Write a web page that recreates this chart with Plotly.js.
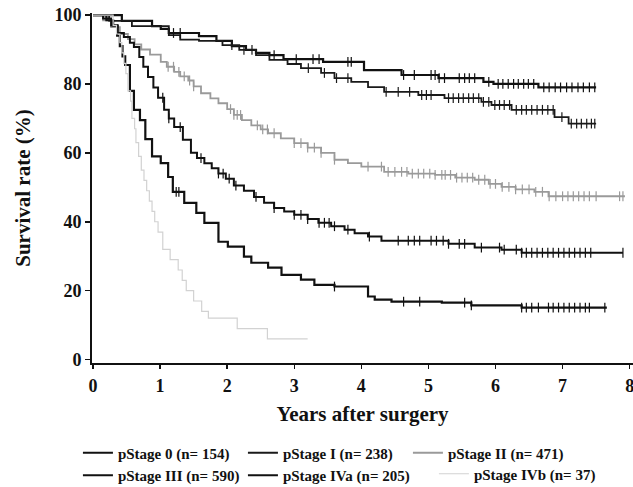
<!DOCTYPE html>
<html>
<head>
<meta charset="utf-8">
<script src="https://cdn.plot.ly/plotly-3.0.1.min.js"></script>
<style>html,body{margin:0;padding:0;background:#fff;}#chart{width:633px;height:487px;}</style>
</head>
<body>
<div id="chart"></div>
<script>
// ---- Data ----
const seriesNames = ["pStage 0 (n= 154)", "pStage I (n= 238)", "pStage II (n= 471)",
                     "pStage III (n= 590)", "pStage IVa (n= 205)", "pStage IVb (n= 37)"];

const stage0_t = [0, 0.43, 0.88, 1.01, 1.13, 1.58, 1.84, 2.07, 2.28, 2.43, 2.63, 2.84, 3.43, 4.04, 4.6, 5.15, 5.82, 5.97, 6.64, 7.5];
const stage0_s = [100, 98.3, 96.8, 96, 94.8, 93.9, 92.5, 91, 89.9, 89, 88.4, 87.2, 86.4, 84, 82.6, 81.7, 80.6, 80, 79, 79];
const stage0_c = [1.2, 1.3, 2.7, 3.03, 3.28, 3.37, 3.8, 3.85, 4.63, 4.79, 5.04, 5.1, 5.16, 5.24, 5.46, 5.54, 5.61, 5.69, 5.9, 6.04, 6.11, 6.19, 6.27, 6.34, 6.42, 6.49, 6.57, 6.72, 6.8, 6.89, 6.97, 7.06, 7.14, 7.23, 7.31, 7.4, 7.48];

const stage1_t = [0, 0.24, 0.58, 1.13, 1.3, 1.58, 1.93, 2.18, 2.43, 2.63, 2.9, 3.1, 3.4, 3.6, 3.85, 4.1, 4.34, 4.85, 5.24, 5.79, 5.94, 6.24, 6.88, 7.09, 7.5];
const stage1_s = [100, 98.3, 96.8, 94.2, 92.9, 92.5, 91.3, 89.9, 88.4, 87, 85.8, 84.6, 83.2, 81.7, 80.6, 79.1, 77.7, 76.8, 75.9, 74.8, 73.9, 72.5, 70.4, 68.5, 68.5];
const stage1_c = [2.07, 2.25, 2.37, 3.21, 3.45, 3.63, 3.8, 4.37, 4.55, 4.72, 4.9, 4.97, 5.04, 5.3, 5.37, 5.45, 5.52, 5.6, 5.67, 5.75, 5.82, 5.9, 5.99, 6.06, 6.13, 6.21, 6.31, 6.39, 6.46, 6.54, 6.62, 6.7, 6.78, 6.86, 6.99, 7.13, 7.21, 7.28, 7.36, 7.43, 7.48];

const stage2_t = [0, 0.15, 0.27, 0.4, 0.52, 0.62, 0.72, 0.85, 1.01, 1.1, 1.21, 1.3, 1.42, 1.5, 1.61, 1.75, 1.87, 2.0, 2.1, 2.22, 2.36, 2.5, 2.61, 2.8, 3.0, 3.2, 3.4, 3.6, 3.8, 4.0, 4.34, 4.7, 5.1, 5.4, 5.69, 5.9, 6.09, 6.3, 6.58, 6.79, 7.93];
const stage2_s = [100, 98.5, 96.5, 94.5, 93, 91.5, 90, 88.5, 86.4, 85, 83.5, 82.2, 81, 79.3, 77.3, 75.8, 74.4, 72.7, 71, 69.5, 68, 66.8, 65.7, 64.2, 62.8, 61.5, 60, 58, 57, 56, 54.5, 54, 53.6, 52.8, 52.2, 51, 50.1, 49.4, 48.7, 47.4, 47.4];
const stage2_c = [1.12, 1.2, 1.28, 1.36, 1.44, 1.5, 2.05, 2.1, 2.15, 2.2, 2.45, 2.53, 2.6, 2.7, 3.0, 3.1, 3.2, 3.3, 3.4, 3.6, 4.1, 4.3, 4.4, 4.5, 4.6, 4.68, 4.76, 4.85, 4.93, 5.02, 5.1, 5.2, 5.25, 5.33, 5.42, 5.5, 5.58, 5.66, 5.75, 5.84, 5.92, 6.0, 6.1, 6.2, 6.3, 6.4, 6.5, 6.6, 6.7, 6.8, 6.9, 7.0, 7.08, 7.16, 7.24, 7.32, 7.4, 7.5, 7.85, 7.9];

const stage3_t = [0, 0.15, 0.27, 0.37, 0.46, 0.55, 0.61, 0.69, 0.75, 0.82, 0.9, 0.97, 1.06, 1.13, 1.21, 1.34, 1.46, 1.55, 1.66, 1.77, 1.87, 1.98, 2.1, 2.25, 2.4, 2.55, 2.7, 2.85, 3.0, 3.2, 3.36, 3.55, 3.75, 3.9, 4.1, 4.3, 5.3, 5.69, 6.09, 6.39, 7.9];
const stage3_s = [100, 99, 97, 94.8, 93.6, 92, 90.7, 87.8, 85, 82, 79, 76, 72.5, 70, 67.5, 63.8, 60, 58.5, 57, 55.5, 54, 52.5, 50.5, 49, 47.2, 45.5, 44, 43, 42, 40.8, 39.7, 38.7, 37.7, 36.7, 35.7, 34.5, 33.6, 32.5, 31.9, 31, 31];
const stage3_c = [1.04, 1.13, 1.3, 1.61, 1.87, 1.94, 2.03, 2.13, 2.43, 2.7, 3.0, 3.1, 3.2, 3.37, 3.45, 3.52, 3.6, 3.8, 4.12, 4.55, 4.7, 4.79, 4.87, 5.04, 5.12, 5.22, 5.3, 5.46, 5.54, 5.79, 6.06, 6.13, 6.31, 6.39, 6.46, 6.54, 6.62, 6.7, 6.78, 6.86, 6.94, 7.02, 7.1, 7.18, 7.26, 7.34, 7.42, 7.9];

const stage4a_t = [0, 0.2, 0.3, 0.36, 0.4, 0.44, 0.48, 0.55, 0.61, 0.7, 0.78, 0.88, 1.01, 1.12, 1.19, 1.36, 1.54, 1.66, 1.87, 2.01, 2.25, 2.36, 2.61, 2.81, 3.1, 3.3, 3.6, 4.1, 4.2, 4.45, 5.2, 5.64, 6.39, 7.66];
const stage4a_s = [100, 98.5, 97, 94, 91, 88, 85.5, 78, 72.5, 69.5, 64, 59, 57, 53, 48.7, 45.5, 42.6, 39.7, 34.2, 32.8, 29.9, 28.1, 26.7, 24.6, 23.2, 21.7, 21.2, 18.3, 17.4, 16.8, 16.5, 15.7, 15.1, 15.1];
const stage4a_c = [1.24, 1.28, 3.6, 4.63, 4.87, 5.54, 5.64, 6.39, 6.46, 6.54, 6.64, 6.79, 6.86, 6.94, 7.02, 7.1, 7.18, 7.26, 7.34, 7.4, 7.63];

const stage4b_t = [0, 0.3, 0.35, 0.4, 0.43, 0.46, 0.49, 0.52, 0.56, 0.58, 0.62, 0.64, 0.68, 0.72, 0.76, 0.8, 0.84, 0.88, 0.92, 0.97, 1.04, 1.15, 1.27, 1.33, 1.39, 1.5, 1.62, 1.72, 2.15, 2.6, 3.2];
const stage4b_s = [100, 97, 94.5, 92, 89, 86, 83, 78, 75, 70, 67, 63, 59, 55, 52, 49, 46, 43, 40, 37, 32, 29, 26, 23, 20, 17, 14, 12, 9, 6, 6];
const stage4b_c = [];

const xTickVals = [0, 1, 2, 3, 4, 5, 6, 7, 8];
const yTickVals = [0, 20, 40, 60, 80, 100];

// ---- Styles ----
const styles = [
  {color: "#111111", width: 2.2, legend: "legend"},
  {color: "#1a1a1a", width: 1.8, legend: "legend"},
  {color: "#9a9a9a", width: 1.8, legend: "legend"},
  {color: "#111111", width: 2.0, legend: "legend"},
  {color: "#111111", width: 2.2, legend: "legend"},
  {color: "#d2d2d2", width: 1.2, legend: "legend2"}
];

const curves = [
  [stage0_t, stage0_s, stage0_c],
  [stage1_t, stage1_s, stage1_c],
  [stage2_t, stage2_s, stage2_c],
  [stage3_t, stage3_s, stage3_c],
  [stage4a_t, stage4a_s, stage4a_c],
  [stage4b_t, stage4b_s, stage4b_c]
];

function stepAt(t, ts, ss) {
  let v = ss[0];
  for (let i = 0; i < ts.length; i++) { if (ts[i] <= t) v = ss[i]; else break; }
  return v;
}

const traces = [];
curves.forEach((c, i) => {
  traces.push({
    type: "scatter", mode: "lines", x: c[0], y: c[1],
    line: {shape: "hv", color: styles[i].color, width: styles[i].width},
    name: seriesNames[i], showlegend: true, legend: styles[i].legend, hoverinfo: "skip"
  });
});
curves.forEach((c, i) => {
  if (!c[2].length) return;
  traces.push({
    type: "scatter", mode: "markers", x: c[2], y: c[2].map(t => stepAt(t, c[0], c[1])),
    marker: {symbol: "line-ns-open", size: 7, color: styles[i].color, line: {color: styles[i].color, width: 1.2}},
    showlegend: false, hoverinfo: "skip"
  });
});

const serif = "'Liberation Serif', 'Times New Roman', serif";
const legendFont = {family: serif, size: 15, color: "#111", weight: "bold"};

const layout = {
  width: 633, height: 487,
  margin: {l: 92, r: 0, t: 13, b: 123.5, autoexpand: false},
  paper_bgcolor: "#ffffff", plot_bgcolor: "#ffffff",
  showlegend: true,
  font: {family: serif, color: "#111"},
  xaxis: {
    range: [-0.015, 8.05], tickvals: xTickVals, ticktext: xTickVals.map(String),
    showgrid: false, zeroline: false, showline: true, linecolor: "#111", linewidth: 2,
    ticks: "outside", ticklen: 4, tickwidth: 1.5, tickcolor: "#111",
    ticklabeloverflow: "allow", ticklabelstandoff: 1, automargin: false,
    tickfont: {family: serif, size: 18, color: "#111", weight: "bold"},
    title: {text: "<b>Years after surgery</b>", font: {family: serif, size: 21, color: "#111"}, standoff: 12}
  },
  yaxis: {
    range: [-1, 100.6], tickvals: yTickVals, ticktext: yTickVals.map(String),
    showgrid: false, zeroline: false, showline: true, linecolor: "#111", linewidth: 2,
    ticks: "outside", ticklen: 5, tickwidth: 1.5, tickcolor: "#111", automargin: false,
    tickfont: {family: serif, size: 18, color: "#111", weight: "bold"},
    title: {text: "<b>Survival rate (%)</b>", font: {family: serif, size: 21, color: "#111"}, standoff: 18}
  },
  legend: {
    orientation: "h", x: -0.026, xanchor: "left", y: -0.21, yanchor: "top",
    font: legendFont, entrywidth: 120, entrywidthmode: "pixels", itemwidth: 30,
    bgcolor: "rgba(0,0,0,0)", traceorder: "normal"
  },
  legend2: {
    orientation: "h", x: 0.632, xanchor: "left", y: -0.27, yanchor: "top",
    font: legendFont, itemwidth: 30, bgcolor: "rgba(0,0,0,0)"
  }
};

Plotly.newPlot("chart", traces, layout, {staticPlot: true, displayModeBar: false});
</script>
</body>
</html>
